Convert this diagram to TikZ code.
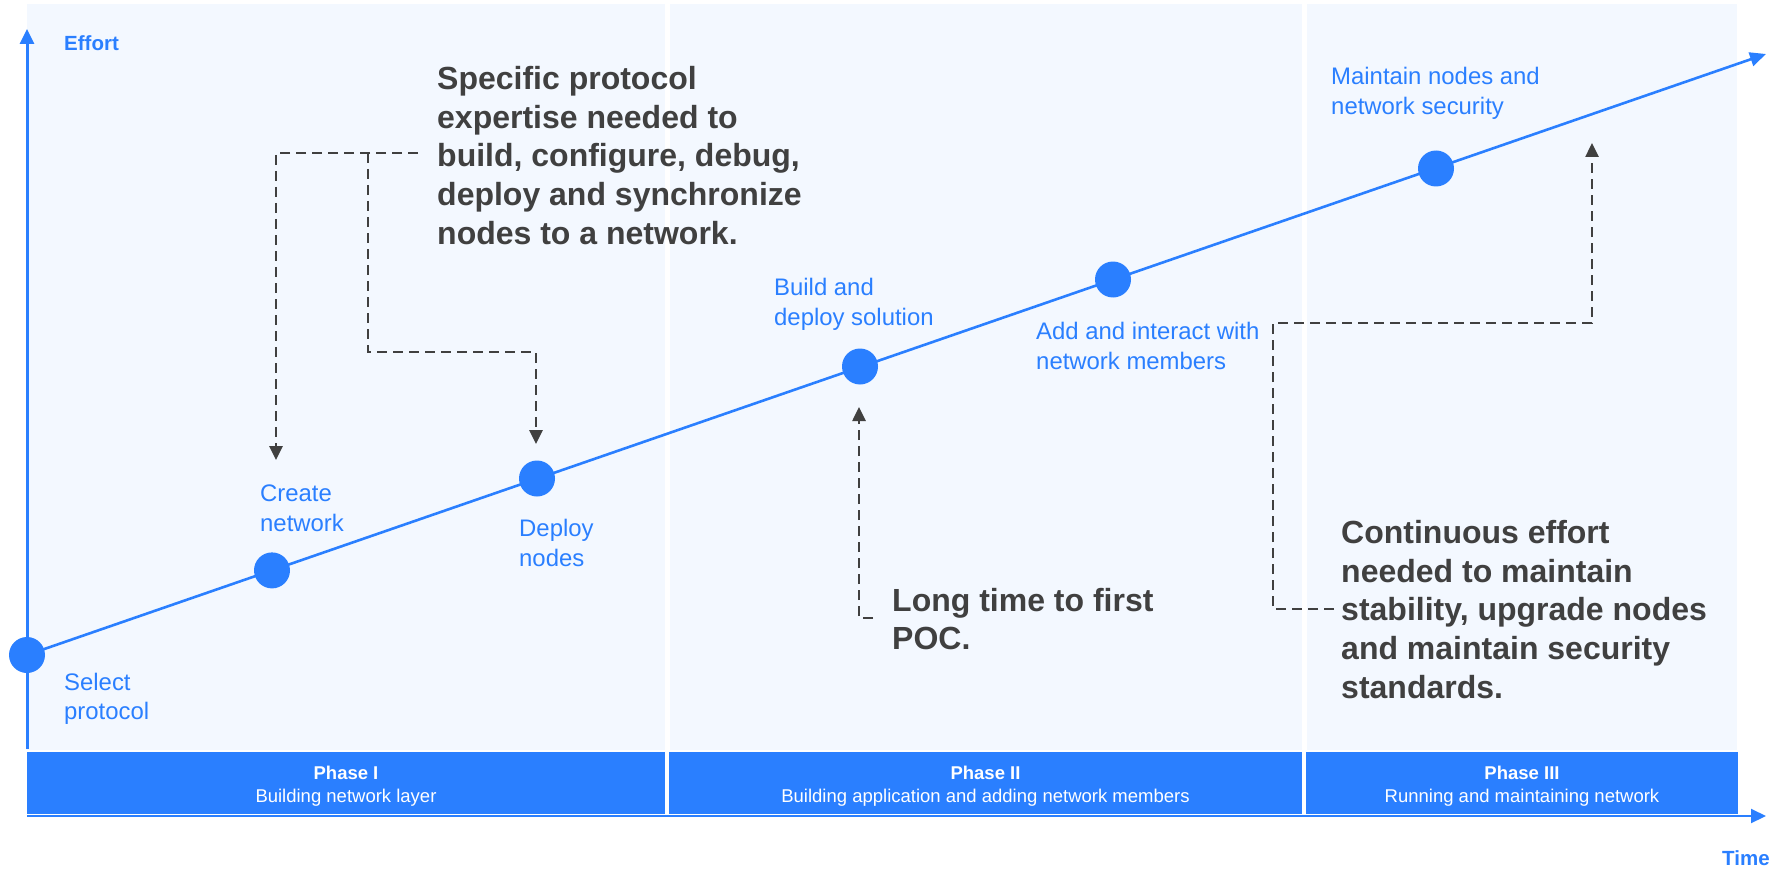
\documentclass[tikz,border=0pt]{standalone}
\usepackage{fontspec}
\setmainfont{Liberation Sans}
\usetikzlibrary{arrows.meta,calc}
\definecolor{myblue}{RGB}{42,127,255}
\definecolor{panelbg}{RGB}{243,248,255}
\definecolor{darktext}{RGB}{64,64,64}
\begin{document}
\begin{tikzpicture}[x=1pt,y=-1pt,
  panel/.style={fill=panelbg},
  phasebox/.style={fill=myblue, inner sep=0, minimum height=62},
  phasetext/.style={text=white, inner sep=0, align=center, yshift=-3pt, font=\fontsize{18.5}{22.5}\selectfont},
  axisline/.style={draw=myblue, line width=3, -{Triangle[length=15,width=14]}},
  mainline/.style={draw=myblue, line width=2.6, -{Triangle[length=16,width=14]}},
  dotnode/.style={circle, fill=myblue, inner sep=0, minimum size=36},
  steplabel/.style={text=myblue, anchor=west, inner sep=0, align=left, font=\fontsize{23.9}{29.5}\selectfont},
  axislabel/.style={text=myblue, anchor=west, inner sep=0, font=\fontsize{20.5}{24}\selectfont\bfseries},
  callout/.style={text=darktext, anchor=west, inner sep=0, align=left, font=\fontsize{32}{38.6}\selectfont\bfseries},
  dashline/.style={draw=darktext, line width=2.6, dash pattern=on 10 off 6},
  dasharrow/.style={dashline, -{Triangle[length=14,width=13]}}
]
\useasboundingbox (0,0) rectangle (1788,869);
\fill[white] (0,0) rectangle (1788,869);

% background panels
\fill[panel] (27,4) rectangle (665,750);
\fill[panel] (670,4) rectangle (1302,750);
\fill[panel] (1307,4) rectangle (1737,750);

% phase bar
\node[phasebox, minimum width=638] (p1) at (346,783) {};
\node[phasebox, minimum width=633] (p2) at (985.5,783) {};
\node[phasebox, minimum width=432] (p3) at (1522,783) {};
\node[phasetext] (p1t) at (p1.center) {\textbf{Phase I}\\Building network layer};
\node[phasetext] (p2t) at (p2.center) {\textbf{Phase II}\\Building application and adding network members};
\node[phasetext] (p3t) at (p3.center) {\textbf{Phase III}\\Running and maintaining network};

% axes
\coordinate (origin) at (27,816);
\coordinate (ybot) at (27,749);
\coordinate (ytop) at (27,29);
\coordinate (xend) at (1766,816);
\draw[axisline] (ybot) -- (ytop);
\draw[axisline, line width=2] (origin) -- (xend);
\node[axislabel] (effort) at (64,43) {Effort};
\node[axislabel] (time) at (1722,858) {Time};

% main line and dots
\coordinate (linestart) at (27,655);
\coordinate (linetip) at (1766,54);
\draw[mainline] (linestart) -- (linetip);
\node[dotnode] (d1) at (27,655) {};
\node[dotnode] (d2) at (272,570.4) {};
\node[dotnode] (d3) at (537,478.5) {};
\node[dotnode] (d4) at (860,366.5) {};
\node[dotnode] (d5) at (1113,279.5) {};
\node[dotnode] (d6) at (1436,168.5) {};

% step labels
\node[steplabel] (l1) at (64,699) {Select\\protocol};
\node[steplabel] (l2) at (260,508.5) {Create\\network};
\node[steplabel] (l3) at (519,543) {Deploy\\nodes};
\node[steplabel] (l4) at (774,304.5) {Build and\\deploy solution};
\node[steplabel] (l5) at (1036,346) {Add and interact with\\network members};
\node[steplabel] (l6) at (1331,93.5) {Maintain nodes and\\network security};

% callouts
\node[callout] (c1) at (437,155.5) {Specific protocol\\expertise needed to\\build, configure, debug,\\deploy and synchronize\\nodes to a network.};
\node[callout] (c2) at (892,619) {Long time to first\\POC.};
\node[callout] (c3) at (1341,609.5) {Continuous effort\\needed to maintain\\stability, upgrade nodes\\and maintain security\\standards.};

% dashed connectors
\coordinate (a1) at (418,153);
\coordinate (a2) at (276,153);
\coordinate (a3) at (276,460);
\coordinate (b1) at (368,153);
\coordinate (b2) at (368,352);
\coordinate (b3) at (536,352);
\coordinate (b4) at (536,444);
\draw[dasharrow] (a1) -- (a2) -- (a3);
\draw[dasharrow] (b1) -- (b2) -- (b3) -- (b4);

\coordinate (e1) at (873,618);
\coordinate (e2) at (859,618);
\coordinate (e3) at (859,407);
\draw[dasharrow] (e1) -- (e2) -- (e3);

\coordinate (f1) at (1334,609);
\coordinate (f2) at (1273,609);
\coordinate (f3) at (1273,323);
\coordinate (f4) at (1592,323);
\coordinate (f5) at (1592,143);
\draw[dasharrow] (f1) -- (f2) -- (f3) -- (f4) -- (f5);
\end{tikzpicture}
\end{document}
